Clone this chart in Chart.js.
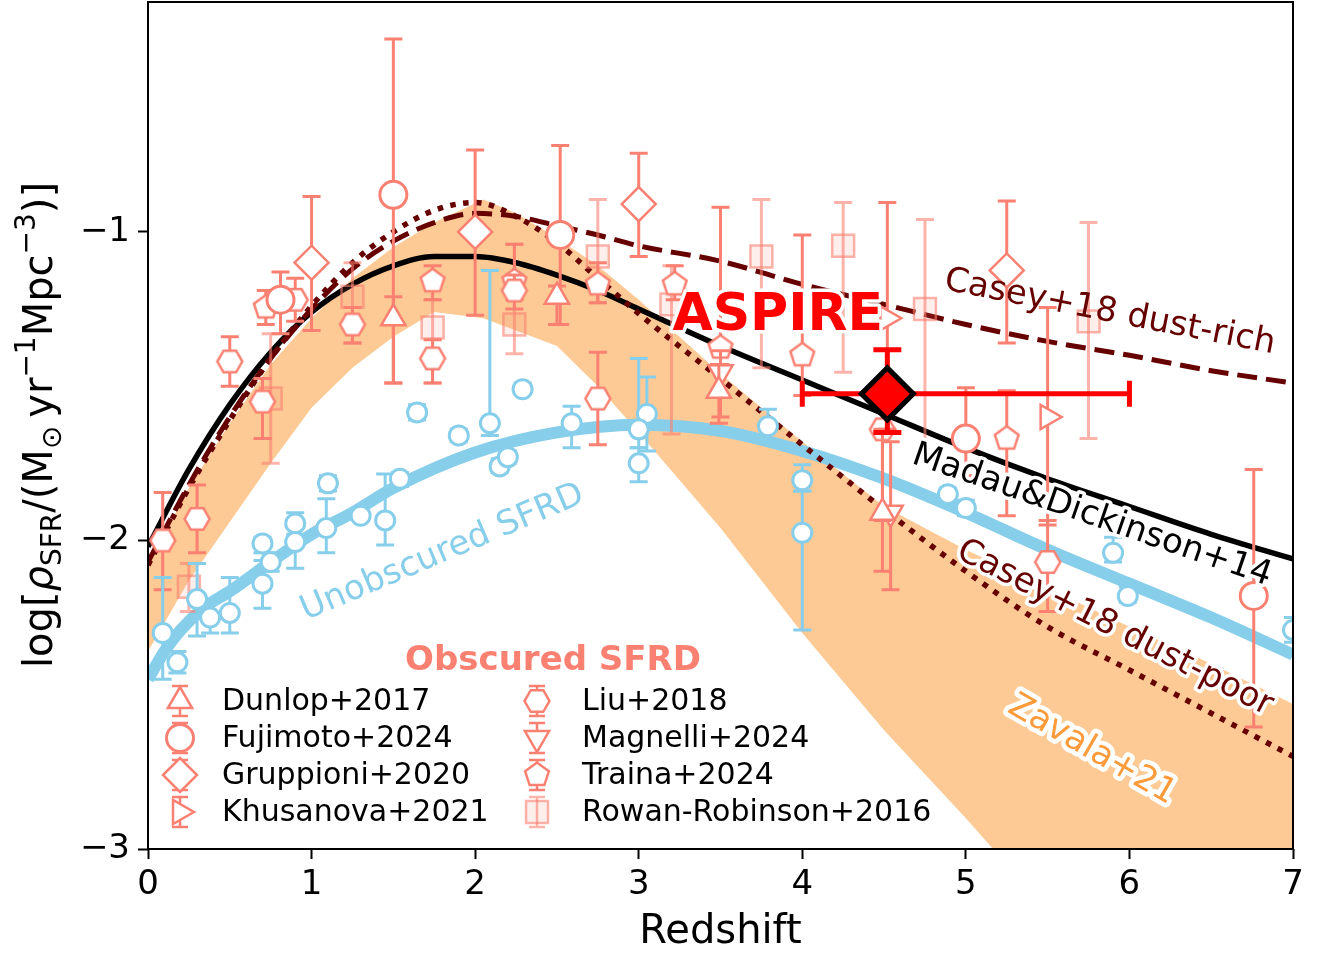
<!DOCTYPE html>
<html>
<head>
<meta charset="utf-8">
<script src="https://cdn.jsdelivr.net/npm/chart.js@4.4.1/dist/chart.umd.min.js"></script>
<style>
  html, body { margin: 0; padding: 0; background: #fff; }
  #wrap { width: 1321px; height: 955px; }
</style>
</head>
<body>
<div id="wrap"><canvas id="sfrdChart" width="1321" height="955"></canvas></div>
<script>
// axis ticks
const xTicks = [0, 1, 2, 3, 4, 5, 6, 7];
const yTicks = [-3, -2, -1];

// Zavala+21 band
const zavalaZ  = [0, 0.25, 0.5, 0.75, 1, 1.25, 1.5, 1.75, 2.05, 2.25, 2.5, 2.75, 3, 3.5, 4, 4.5, 5, 5.5, 6, 6.5, 7];
const zavalaHi = [-2.08, -1.83, -1.62, -1.43, -1.28, -1.15, -1.05, -0.97, -0.895, -0.94, -1.02, -1.11, -1.22, -1.46, -1.68, -1.89, -2.03, -2.155, -2.28, -2.40, -2.53];
const zavalaLo = [-2.36, -2.13, -1.94, -1.75, -1.57, -1.44, -1.34, -1.26, -1.28, -1.32, -1.37, -1.50, -1.65, -1.96, -2.30, -2.615, -2.90, -3.20, -3.50, -3.80, -4.10];

// model curves
const curveZ   = [0, 0.25, 0.5, 0.75, 1, 1.25, 1.5, 1.75, 2, 2.25, 2.5, 2.75, 3, 3.5, 4, 4.5, 5, 5.5, 6, 6.5, 7];
const madauV   = [-2.02, -1.77, -1.56, -1.39, -1.26, -1.17, -1.11, -1.08, -1.08, -1.10, -1.14, -1.19, -1.25, -1.37, -1.48, -1.59, -1.70, -1.80, -1.89, -1.98, -2.06];
const dustRichV = [-2.07, -1.82, -1.60, -1.41, -1.25, -1.12, -1.03, -0.97, -0.94, -0.95, -0.98, -1.01, -1.045, -1.095, -1.17, -1.235, -1.30, -1.355, -1.40, -1.45, -1.49];
const dustPoorV = [-2.08, -1.83, -1.61, -1.41, -1.24, -1.10, -1.00, -0.93, -0.905, -0.95, -1.035, -1.15, -1.265, -1.476, -1.69, -1.90, -2.10, -2.28, -2.42, -2.56, -2.70];

// unobscured SFRD curve
const unobZ = [0, 0.1, 0.2, 0.35, 0.5, 0.75, 1, 1.25, 1.5, 2, 2.5, 3, 3.5, 4, 4.5, 5, 5.5, 6, 6.5, 7];
const unobV = [-2.45, -2.36, -2.29, -2.215, -2.165, -2.07, -1.98, -1.91, -1.83, -1.715, -1.65, -1.625, -1.645, -1.71, -1.80, -1.91, -2.03, -2.14, -2.25, -2.37];

// obscured measurements: [z, value, lower, upper]
const dunlop = [[1.5, -1.28, -1.49, -1.21], [2.5, -1.21, -1.30, -1.175], [3.49, -1.515, -1.62, -1.43], [4.49, -1.91, -2.10, -1.64]];
const fujimoto = [[0.81, -1.22, -1.33, -1.13], [1.5, -0.88, -1.49, -0.375], [2.52, -1.01, -1.30, -0.72], [5.0, -1.67, -1.79, -1.505], [6.76, -2.18, -2.605, -1.77]];
const gruppioni = [[1.0, -1.10, -1.32, -0.885], [2.0, -1.0, -1.27, -0.735], [3.0, -0.91, -1.08, -0.745], [5.25, -1.125, -1.36, -0.90]];
const khusanova = [[4.52, -1.28, -1.64, -0.905], [5.5, -1.60, -1.95, -1.245]];
const liu = [[0.09, -2.0, -2.16, -1.845], [0.3, -1.93, -2.04, -1.82], [0.5, -1.42, -1.50, -1.34], [0.7, -1.55, -1.67, -1.475],
             [0.9, -1.22, -1.29, -1.15], [1.25, -1.30, -1.36, -1.245], [1.74, -1.41, -1.49, -1.35], [2.24, -1.19, -1.25, -1.14],
             [2.75, -1.54, -1.69, -1.39], [4.49, -1.64, -1.935, -1.53], [5.5, -2.07, -2.23, -1.935]];
const magnelli = [[3.5, -1.455, -1.60, -1.385], [4.54, -1.91, -2.16, -1.68]];
const traina = [[0.72, -1.245, -1.30, -1.19], [1.74, -1.16, -1.22, -1.11], [2.24, -1.16, -1.22, -1.04], [2.75, -1.17, -1.23, -1.10],
                [3.22, -1.17, -1.22, -1.11], [3.5, -1.375, -1.43, -0.92], [4.0, -1.40, -1.53, -1.01], [5.25, -1.67, -1.92, -1.515]];
const rowanRobinson = [[0.25, -2.15, -2.23, -2.075], [0.75, -1.54, -1.75, -1.33], [1.25, -1.21, -1.36, -1.10], [1.74, -1.31, -1.49, -1.22],
                       [2.24, -1.30, -1.395, -1.04], [2.75, -1.08, -1.23, -0.895], [3.2, -1.235, -1.655, -1.11], [3.75, -1.08, -1.44, -0.895],
                       [4.25, -1.045, -1.455, -0.905], [4.75, -1.25, -1.74, -0.96], [5.75, -1.29, -1.67, -0.97]];

// unobscured measurements: [z, value, lower, upper]
const unobPoints = [[0.09, -2.30, -2.45, -2.12], [0.18, -2.395, -2.43, -2.36], [0.3, -2.19, -2.31, -2.075], [0.38, -2.25, -2.30, -2.20],
  [0.5, -2.235, -2.30, -2.12], [0.7, -2.14, -2.22, -2.065], [0.7, -2.01, -2.04, -1.99], [0.75, -2.07, -2.10, -2.04],
  [0.9, -1.945, -1.98, -1.91], [0.9, -2.005, -2.09, -1.95], [1.09, -1.96, -2.04, -1.865], [1.1, -1.815, -1.84, -1.79],
  [1.3, -1.92, -1.935, -1.90], [1.45, -1.935, -2.015, -1.785], [1.54, -1.80, -1.825, -1.78], [1.645, -1.585, -1.61, -1.56],
  [1.9, -1.66, -1.68, -1.64], [2.09, -1.62, -1.66, -1.125], [2.15, -1.76, -1.78, -1.735], [2.2, -1.73, -1.75, -1.71],
  [2.29, -1.51, -1.525, -1.49], [2.59, -1.62, -1.70, -1.565], [3.05, -1.59, -1.71, -1.47], [3.0, -1.64, -1.70, -1.41],
  [3.0, -1.75, -1.81, -1.70], [3.79, -1.63, -1.68, -1.575], [4.0, -1.805, -1.84, -1.755], [4.0, -1.975, -2.29, -1.84],
  [4.89, -1.85, -1.875, -1.83], [5.0, -1.895, -1.92, -1.87], [5.9, -2.04, -2.07, -1.99], [5.99, -2.18, -2.20, -2.15],
  [7.0, -2.29, -2.33, -2.25]];

// ASPIRE: z, value, z range, value range
const aspire = [4.52, -1.525];
const aspireZRange = [4.0, 6.0];
const aspireVRange = [-1.65, -1.382];

const SALMON = '#FA8072';
const SALMON_SOFT = 'rgba(250,128,114,0.6)';
const SKY = '#87CEEB';
const DARKRED = '#660000';

Chart.defaults.font.family = "'DejaVu Sans', sans-serif";

function curve(zs, vs) { return zs.map((z, i) => ({ x: z, y: vs[i] })); }
function centres(rows) { return rows.map(r => ({ x: r[0], y: r[1] })); }

// hexagon / pentagon markers drawn once on small canvases
function polyMarker(sides, r, rot, fill, stroke, lw) {
  const s = Math.ceil(2 * (r + lw)) + 2;
  const c = document.createElement('canvas');
  c.width = s; c.height = s;
  const g = c.getContext('2d');
  g.beginPath();
  for (let i = 0; i < sides; i++) {
    const a = rot + i * 2 * Math.PI / sides;
    const px = s / 2 + r * Math.sin(a), py = s / 2 - r * Math.cos(a);
    if (i === 0) g.moveTo(px, py); else g.lineTo(px, py);
  }
  g.closePath();
  g.fillStyle = fill; g.fill();
  g.lineWidth = lw; g.strokeStyle = stroke; g.stroke();
  return c;
}
const hexMarker = polyMarker(6, 12.5, Math.PI / 6, '#fff', SALMON, 2.5);
const pentMarker = polyMarker(5, 12.5, 0, '#fff', SALMON, 2.5);

function pointSet(label, rows, style, opts) {
  return Object.assign({
    type: 'scatter', label: label, data: centres(rows), errRows: rows,
    errColor: SALMON, errWidth: 3, errCap: 9,
    pointStyle: style, pointRadius: 14, pointRotation: 0,
    pointBackgroundColor: '#fff', pointBorderColor: SALMON, pointBorderWidth: 2.5,
    showLine: false, order: 10, inLegend: true
  }, opts || {});
}

const datasets = [
  { type: 'line', label: 'zavala-lo', data: curve(zavalaZ, zavalaLo), borderWidth: 0, pointRadius: 0, fill: false, tension: 0, order: 30 },
  { type: 'line', label: 'Zavala+21', data: curve(zavalaZ, zavalaHi), borderWidth: 0, pointRadius: 0, fill: '-1',
    backgroundColor: '#fdca95', tension: 0, order: 29 },
  { type: 'line', label: 'Unobscured SFRD', data: curve(unobZ, unobV), borderColor: SKY, borderWidth: 12,
    pointRadius: 0, fill: false, cubicInterpolationMode: 'monotone', order: 28 },
  { type: 'line', label: 'Madau&Dickinson+14', data: curve(curveZ, madauV), borderColor: '#000', borderWidth: 5.5,
    pointRadius: 0, fill: false, cubicInterpolationMode: 'monotone', order: 27 },
  { type: 'line', label: 'Casey+18 dust-rich', data: curve(curveZ, dustRichV), borderColor: DARKRED, borderWidth: 5,
    borderDash: [20, 9], pointRadius: 0, fill: false, cubicInterpolationMode: 'monotone', order: 26 },
  { type: 'line', label: 'Casey+18 dust-poor', data: curve(curveZ, dustPoorV), borderColor: DARKRED, borderWidth: 5.5,
    borderDash: [5.5, 7.5], pointRadius: 0, fill: false, cubicInterpolationMode: 'monotone', order: 25 },
  pointSet('Dunlop+2017', dunlop, 'triangle'),
  pointSet('Fujimoto+2024', fujimoto, 'circle', { pointRadius: 13.5, pointBorderWidth: 3 }),
  pointSet('Gruppioni+2020', gruppioni, 'rectRot', { pointRadius: 17 }),
  pointSet('Khusanova+2021', khusanova, 'triangle', { pointRotation: 90 }),
  pointSet('Liu+2018', liu, hexMarker),
  pointSet('Magnelli+2024', magnelli, 'triangle', { pointRotation: 180 }),
  pointSet('Traina+2024', traina, pentMarker),
  pointSet('Rowan-Robinson+2016', rowanRobinson, 'rect', { pointRadius: 15.5, pointBackgroundColor: 'rgba(250,128,114,0.13)',
    pointBorderColor: SALMON_SOFT, errColor: SALMON_SOFT }),
  pointSet('Unobscured points', unobPoints, 'circle', { pointRadius: 9.5, pointBorderWidth: 3, pointBorderColor: SKY,
    errColor: SKY, errWidth: 3, order: 9, inLegend: false }),
  { type: 'scatter', label: 'ASPIRE', data: [{ x: aspire[0], y: aspire[1] }], pointStyle: 'rectRot', pointRadius: 26,
    pointBackgroundColor: '#ff0000', pointBorderColor: '#000', pointBorderWidth: 5, order: 1 }
];

// rotated text annotations (data coords of the label centre)
const notes = [
  { text: 'Casey+18 dust-rich', z: 5.88, v: -1.262, deg: 11, color: DARKRED, halo: 0, font: '34px "DejaVu Sans"' },
  { text: 'Madau&Dickinson+14', z: 5.77, v: -1.92, deg: 19, color: '#000', halo: 7, font: '34px "DejaVu Sans"' },
  { text: 'Casey+18 dust-poor', z: 5.91, v: -2.285, deg: 27, color: DARKRED, halo: 7, font: '34px "DejaVu Sans"' },
  { text: 'Zavala+21', z: 5.77, v: -2.68, deg: 30, color: '#fd9a3a', halo: 9, font: '34px "DejaVu Sans"' },
  { text: 'Unobscured SFRD', z: 1.8, v: -2.04, deg: -23, color: SKY, halo: 0, font: '34px "DejaVu Sans"' },
  { text: 'ASPIRE', z: 3.85, v: -1.275, deg: 0, color: '#ff0000', halo: 7, font: 'bold 52px "DejaVu Sans"' }
];

function drawMarker(ctx, ds, x, y) {
  ctx.save();
  ctx.fillStyle = ds.pointBackgroundColor;
  ctx.strokeStyle = ds.pointBorderColor;
  ctx.lineWidth = ds.pointBorderWidth;
  Chart.helpers.drawPoint(ctx, { pointStyle: ds.pointStyle, rotation: ds.pointRotation, radius: ds.pointRadius,
    borderWidth: ds.pointBorderWidth }, x, y);
  ctx.restore();
}

function textLabel(ctx, text, x, y, deg, font, color, halo) {
  ctx.save();
  ctx.translate(x, y);
  ctx.rotate(deg * Math.PI / 180);
  ctx.font = font;
  ctx.textAlign = 'center';
  ctx.textBaseline = 'middle';
  if (halo) {
    ctx.lineWidth = halo; ctx.strokeStyle = '#fff'; ctx.lineJoin = 'round';
    ctx.strokeText(text, 0, 0);
  }
  ctx.fillStyle = color;
  ctx.fillText(text, 0, 0);
  ctx.restore();
}

function yTitle(ctx, cx, cy) {
  const F = 40, f = 28;
  const parts = [
    ['log[', 'normal', F, 0], ['\u03C1', 'italic', F, 0], ['SFR', 'normal', f, 9], ['/(M', 'normal', F, 0],
    ['\u2299', 'normal', f, 9], ['\u2009yr', 'normal', F, 0], ['\u22121', 'normal', f, -17],
    ['Mpc', 'normal', F, 0], ['\u22123', 'normal', f, -17], [')]', 'normal', F, 0]
  ];
  ctx.save();
  ctx.translate(cx, cy);
  ctx.rotate(-Math.PI / 2);
  ctx.fillStyle = '#000';
  ctx.textBaseline = 'alphabetic';
  let total = 0;
  parts.forEach(p => { ctx.font = `${p[1]} ${p[2]}px "DejaVu Sans"`; p.w = ctx.measureText(p[0]).width; total += p.w; });
  let x = -total / 2;
  parts.forEach(p => {
    ctx.font = `${p[1]} ${p[2]}px "DejaVu Sans"`;
    ctx.fillText(p[0], x, 14 + p[3]);
    x += p.w;
  });
  ctx.restore();
}

const extras = {
  id: 'sfrdExtras',
  beforeDatasetDraw(chart, args) {
    const ds = chart.data.datasets[args.index];
    const xs = chart.scales.x, ys = chart.scales.y, a = chart.chartArea, ctx = chart.ctx;
    ctx.save();
    ctx.beginPath(); ctx.rect(a.left, a.top, a.right - a.left, a.bottom - a.top); ctx.clip();
    if (ds.errRows) {
      ctx.strokeStyle = ds.errColor; ctx.lineWidth = ds.errWidth;
      ds.errRows.forEach(r => {
        const px = xs.getPixelForValue(r[0]);
        const lo = ys.getPixelForValue(r[2]), hi = ys.getPixelForValue(r[3]);
        ctx.beginPath();
        ctx.moveTo(px, lo); ctx.lineTo(px, hi);
        ctx.moveTo(px - ds.errCap, lo); ctx.lineTo(px + ds.errCap, lo);
        ctx.moveTo(px - ds.errCap, hi); ctx.lineTo(px + ds.errCap, hi);
        ctx.stroke();
      });
    }
    if (ds.label === 'ASPIRE') {
      const px = xs.getPixelForValue(aspire[0]), py = ys.getPixelForValue(aspire[1]);
      const x0 = xs.getPixelForValue(aspireZRange[0]), x1 = xs.getPixelForValue(aspireZRange[1]);
      const y0 = ys.getPixelForValue(aspireVRange[0]), y1 = ys.getPixelForValue(aspireVRange[1]);
      ctx.strokeStyle = '#ff0000'; ctx.lineWidth = 5;
      ctx.beginPath();
      ctx.moveTo(x0, py); ctx.lineTo(x1, py);
      ctx.moveTo(x0, py - 13); ctx.lineTo(x0, py + 13);
      ctx.moveTo(x1, py - 13); ctx.lineTo(x1, py + 13);
      ctx.moveTo(px, y0); ctx.lineTo(px, y1);
      ctx.moveTo(px - 14, y0); ctx.lineTo(px + 14, y0);
      ctx.moveTo(px - 14, y1); ctx.lineTo(px + 14, y1);
      ctx.stroke();
    }
    ctx.restore();
  },
  afterDatasetsDraw(chart) {
    const xs = chart.scales.x, ys = chart.scales.y, ctx = chart.ctx;
    notes.forEach(n => textLabel(ctx, n.text, xs.getPixelForValue(n.z), ys.getPixelForValue(n.v), n.deg, n.font, n.color, n.halo));
  },
  afterDraw(chart) {
    const ctx = chart.ctx, a = chart.chartArea;
    // frame
    ctx.save();
    ctx.strokeStyle = '#000'; ctx.lineWidth = 2;
    ctx.strokeRect(a.left, a.top, a.right - a.left, a.bottom - a.top);
    ctx.restore();
    // legend
    const items = chart.data.datasets.filter(d => d.inLegend);
    textLabel(ctx, 'Obscured SFRD', 553, 661, 0, 'bold 34px "DejaVu Sans"', SALMON, 0);
    items.forEach((d, i) => {
      const col = Math.floor(i / 4), row = i % 4;
      const mx = col ? 537 : 180, tx = col ? 582 : 222, my = 701 + row * 37;
      ctx.save();
      ctx.strokeStyle = d.errColor; ctx.lineWidth = 2.5;
      ctx.beginPath();
      ctx.moveTo(mx, my - 15); ctx.lineTo(mx, my + 15);
      ctx.moveTo(mx - 8, my - 15); ctx.lineTo(mx + 8, my - 15);
      ctx.moveTo(mx - 8, my + 15); ctx.lineTo(mx + 8, my + 15);
      ctx.stroke();
      ctx.restore();
      drawMarker(ctx, d, mx, my);
      ctx.save();
      ctx.font = '30px "DejaVu Sans"'; ctx.fillStyle = '#000';
      ctx.textAlign = 'left'; ctx.textBaseline = 'middle';
      ctx.fillText(d.label, tx, my + 1);
      ctx.restore();
    });
    // axis titles
    textLabel(ctx, 'Redshift', (a.left + a.right) / 2, 933, 0, '40px "DejaVu Sans"', '#000', 0);
    yTitle(ctx, 38, 425);
  }
};

new Chart(document.getElementById('sfrdChart').getContext('2d'), {
  type: 'scatter',
  data: { datasets: datasets },
  options: {
    responsive: false,
    devicePixelRatio: 1,
    animation: false,
    events: [],
    layout: { autoPadding: false, padding: { top: 2, right: 28, left: 0, bottom: 0 } },
    plugins: { legend: { display: false }, tooltip: { enabled: false } },
    scales: {
      x: {
        type: 'linear', min: 0, max: 7,
        afterBuildTicks: s => { s.ticks = xTicks.map(v => ({ value: v })); },
        afterFit: s => { s.height = 106; s.paddingLeft = 0; s.paddingRight = 0; },
        grid: { drawOnChartArea: false, drawTicks: true, tickLength: 10, tickWidth: 2, tickColor: '#000' },
        border: { display: false },
        ticks: { font: { size: 34 }, color: '#000', padding: 6, maxRotation: 0 }
      },
      y: {
        type: 'linear', min: -3, max: -0.255,
        afterBuildTicks: s => { s.ticks = yTicks.map(v => ({ value: v })); },
        afterFit: s => { s.width = 148; s.paddingTop = 0; s.paddingBottom = 0; },
        grid: { drawOnChartArea: false, drawTicks: true, tickLength: 10, tickWidth: 2, tickColor: '#000' },
        border: { display: false },
        ticks: { font: { size: 34 }, color: '#000', padding: 8,
          callback: v => (v < 0 ? '\u2212' + Math.abs(v) : String(v)) }
      }
    }
  },
  plugins: [extras]
});
</script>
</body>
</html>
